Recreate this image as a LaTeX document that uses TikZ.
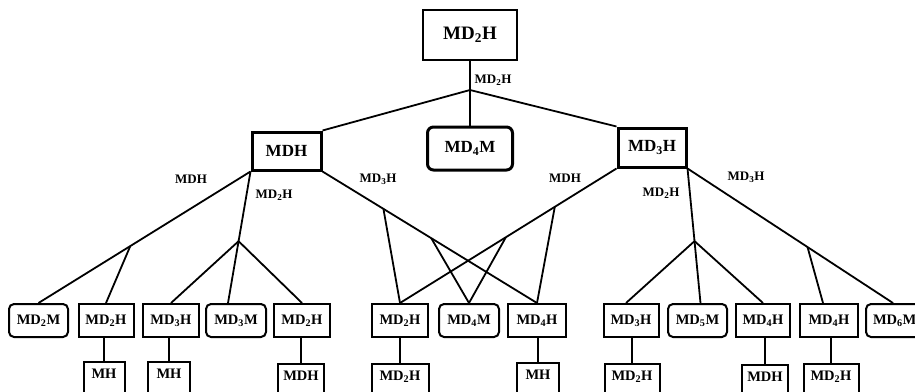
\documentclass[tikz,border=0pt]{standalone}
\usepackage{fontspec}
\setmainfont{Liberation Serif}
\begin{document}
\begin{tikzpicture}[x=1pt,y=-1pt,line width=1.8pt,
  box/.style={draw,line width=2pt,inner sep=0pt,minimum height=33pt,font=\fontsize{14.5}{16}\selectfont\bfseries},
  rbox/.style={box,rounded corners=5pt},
  thickbox/.style={draw,line width=3pt,inner sep=0pt,font=\fontsize{17}{19}\selectfont\bfseries},
  cutbox/.style={draw,line width=2pt,anchor=north,inner xsep=0pt,inner ysep=0pt,text height=16pt,text depth=25pt,font=\fontsize{14.5}{16}\selectfont\bfseries},
  lab/.style={inner sep=0pt,font=\fontsize{13}{15}\selectfont\bfseries}]
\useasboundingbox (0,0) rectangle (915,391);
\clip (0,0) rectangle (915,391);
% top
\node[draw,line width=2pt,inner sep=0pt,minimum width=94pt,minimum height=50pt,font=\fontsize{19}{21}\selectfont\bfseries] (top) at (470,35) {MD\textsubscript{2}H};
\coordinate (j0) at (470,90);
% middle
\node[thickbox,minimum width=69pt,minimum height=38pt] (mdh) at (286.5,151) {MDH};
\node[thickbox,rounded corners=6pt,minimum width=85pt,minimum height=43pt] (mdfm) at (470,148.5) {MD\textsubscript{4}M};
\node[thickbox,minimum width=68pt,minimum height=39pt] (mdth) at (652,147.5) {MD\textsubscript{3}H};
% bottom row
\node[rbox,minimum width=59pt] (a1) at (38.5,320.5) {MD\textsubscript{2}M};
\node[box,minimum width=55pt] (a2) at (106,320.5) {MD\textsubscript{2}H};
\node[box,minimum width=56pt] (a3) at (171,320.5) {MD\textsubscript{3}H};
\node[rbox,minimum width=60pt] (a4) at (236,320.5) {MD\textsubscript{3}M};
\node[box,minimum width=56pt] (a5) at (302,320.5) {MD\textsubscript{2}H};
\node[box,minimum width=56pt] (b1) at (400,320.5) {MD\textsubscript{2}H};
\node[rbox,minimum width=60pt] (b2) at (469,320.5) {MD\textsubscript{4}M};
\node[box,minimum width=58pt] (b3) at (537,320.5) {MD\textsubscript{4}H};
\node[box,minimum width=55pt] (c1) at (631,320.5) {MD\textsubscript{3}H};
\node[rbox,minimum width=59pt] (c2) at (697.5,320.5) {MD\textsubscript{5}M};
\node[box,minimum width=54pt] (c3) at (763,320.5) {MD\textsubscript{4}H};
\node[box,minimum width=58pt] (c4) at (829,320.5) {MD\textsubscript{4}H};
\node[rbox,anchor=west,inner xsep=7pt,text width=60pt,align=left] (c5) at (865,320.5) {MD\textsubscript{6}M};
% lower row
\node[cutbox,minimum width=41pt] (l1) at (104,361) {MH};
\node[cutbox,minimum width=42pt] (l2) at (169,361) {MH};
\node[cutbox,minimum width=46pt] (l3) at (301,363) {MDH};
\node[cutbox,minimum width=57pt] (l4) at (400,363) {MD\textsubscript{2}H};
\node[cutbox,minimum width=42pt] (l5) at (538,362) {MH};
\node[cutbox,minimum width=55pt] (l6) at (632,363) {MD\textsubscript{2}H};
\node[cutbox,minimum width=46pt] (l7) at (765,364) {MDH};
\node[cutbox,minimum width=55pt] (l8) at (831,363) {MD\textsubscript{2}H};
% top connectors
\draw (top.south) -- (j0);
\draw (j0) -- (mdh.north east);
\draw (j0) -- (mdfm.north);
\draw (j0) -- (mdth.north west);
% MDH branches
\draw (mdh.south west) -- coordinate[pos=0.567] (ja) (a1.north);
\draw (ja) -- (a2.north);
\draw (mdh.south west) -- coordinate[pos=0.53] (jb) ([xshift=-8pt]a4.north);
\draw (jb) -- (a3.north);
\draw (jb) -- (a5.north);
\draw (mdh.south east) -- coordinate[pos=0.284] (jc) coordinate[pos=0.507] (jd) (b3.north);
\draw (jc) -- (b1.north);
\draw (jd) -- (b2.north);
% MD3H branches
\draw (mdth.south west) -- coordinate[pos=0.285] (je) coordinate[pos=0.511] (jf) (b1.north);
\draw (je) -- (b3.north);
\draw (jf) -- (b2.north);
\draw (mdth.south east) -- coordinate[pos=0.54] (jg) ([xshift=3pt]c2.north);
\draw (jg) -- ([xshift=-5pt]c1.north);
\draw (jg) -- (c3.north);
\draw (mdth.south east) -- coordinate[pos=0.584] (jh) ([xshift=28pt]c5.north west);
\draw (jh) -- ([xshift=-6pt]c4.north);
% verticals
\draw (l1.north) -- (l1.north |- a2.south);
\draw (l2.north) -- (l2.north |- a3.south);
\draw (l3.north) -- (l3.north |- a5.south);
\draw (l4.north) -- (l4.north |- b1.south);
\draw (l5.north) -- (l5.north |- b3.south);
\draw (l6.north) -- (l6.north |- c1.south);
\draw (l7.north) -- (l7.north |- c3.south);
\draw (l8.north) -- (l8.north |- c4.south);
% labels
\node[lab] (t0) at (493,80) {MD\textsubscript{2}H};
\node[lab] (t1) at (191,179) {MDH};
\node[lab] (t2) at (274,195) {MD\textsubscript{2}H};
\node[lab] (t3) at (378,179) {MD\textsubscript{3}H};
\node[lab] (t4) at (565,178) {MDH};
\node[lab] (t5) at (661,193) {MD\textsubscript{2}H};
\node[lab] (t6) at (746,177) {MD\textsubscript{3}H};
\end{tikzpicture}
\end{document}
